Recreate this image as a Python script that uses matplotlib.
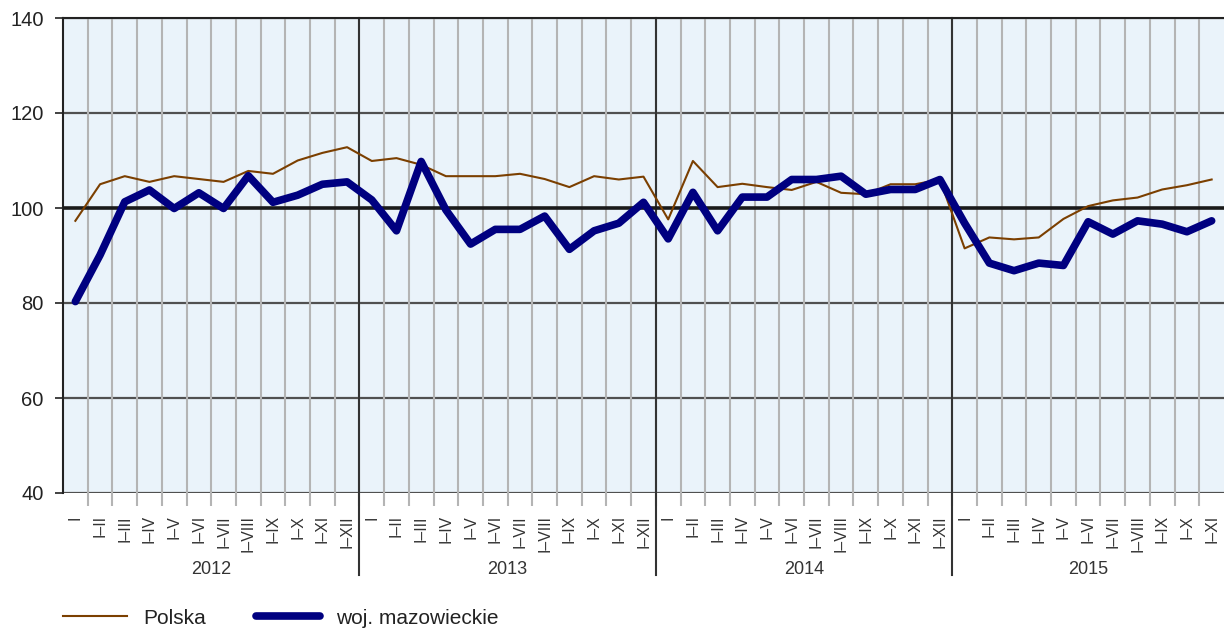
import matplotlib
matplotlib.use("Agg")
import matplotlib.pyplot as plt
import matplotlib.transforms as mtransforms
from matplotlib.lines import Line2D

plt.rcParams['font.family'] = ['Liberation Sans', 'DejaVu Sans']

years = ["2012", "2013", "2014", "2015"]
months_per_year = [12, 12, 12, 11]
period_labels = ["I", "I–II", "I–III", "I–IV", "I–V", "I–VI", "I–VII", "I–VIII",
                 "I–IX", "I–X", "I–XI", "I–XII"]

polska = [97.3, 105.0, 106.7, 105.5, 106.7, 106.1, 105.5, 107.8, 107.2, 110.0, 111.6, 112.8,
          109.9, 110.5, 109.1, 106.7, 106.7, 106.7, 107.2, 106.1, 104.4, 106.7, 106.0, 106.6,
          97.6, 109.9, 104.4, 105.1, 104.4, 103.8, 105.5, 103.2, 102.9, 105.0, 105.0, 106.0,
          91.5, 93.8, 93.4, 93.8, 97.7, 100.4, 101.6, 102.2, 103.9, 104.8, 106.0]
mazowieckie = [80.3, 90.1, 101.3, 103.8, 99.9, 103.2, 99.9, 106.8, 101.2, 102.7, 105.0, 105.5,
               101.7, 95.2, 109.8, 99.6, 92.4, 95.5, 95.5, 98.3, 91.3, 95.2, 96.8, 101.2,
               93.5, 103.3, 95.2, 102.3, 102.3, 106.0, 106.0, 106.7, 102.9, 103.9, 103.9, 106.0,
               96.8, 88.4, 86.8, 88.4, 87.9, 97.1, 94.5, 97.3, 96.6, 95.0, 97.3]

labels = []
for n in months_per_year:
    labels += period_labels[:n]
n_pts = len(labels)
xs = [i + 0.5 for i in range(n_pts)]

fig = plt.figure(figsize=(12.24, 6.28), dpi=100)
ax = fig.add_axes([63/1224, 1 - 493/628, 1 - 63/1224, (493 - 18)/628])
ax.set_facecolor('#EAF3FA')
ax.set_xlim(0, n_pts)
ax.set_ylim(40, 140)

# horizontal grid
for v in [40, 60, 80, 120, 140]:
    ax.axhline(v, color='#505050', lw=1.6, zorder=1)
# vertical minor grid at category boundaries
bounds = list(range(1, n_pts))
ax.set_xticks(bounds, minor=True)
ax.grid(True, which='minor', axis='x', color='#b4b4b4', lw=1.5, zorder=0.5)
ax.tick_params(axis='x', which='minor', length=9.5, width=1.5, color='#b4b4b4')

# major ticks at centers with labels
ax.set_xticks(xs)
ax.set_xticklabels(labels, rotation=90, va='top', ha='center', fontsize=11.3, color='#333333')
ax.tick_params(axis='x', which='major', length=0, pad=16)

ax.set_yticks([40, 60, 80, 100, 120, 140])
ax.tick_params(axis='y', length=6, width=1.3, color='#333333', labelsize=14.5,
               labelcolor='#222222', pad=8)

# year boundaries
trans = mtransforms.blended_transform_factory(ax.transData, ax.transAxes)
cum = 0
starts = []
for n in months_per_year:
    starts.append(cum)
    cum += n
for s in starts[1:]:
    ax.plot([s, s], [-0.173, 1], transform=trans, color='#333333', lw=1.5,
            clip_on=False, zorder=2)
for s, n, y in zip(starts, months_per_year, years):
    ax.text(s + n / 2, -0.16, y, transform=trans, ha='center', va='center',
            fontsize=13, color='#333333')

ax.axhline(100, color='#1a1a1a', lw=2.6, zorder=3)

ax.plot(xs, polska, color='#7B3F00', lw=1.5, zorder=4, solid_joinstyle='round')
ax.plot(xs, mazowieckie, color='#000080', lw=5.5, zorder=5, solid_joinstyle='round',
        solid_capstyle='round')

for side in ['right', 'bottom']:
    ax.spines[side].set_visible(False)
ax.spines['left'].set_color('#222222')
ax.spines['left'].set_linewidth(1.5)
ax.spines['top'].set_color('#222222')
ax.spines['top'].set_linewidth(1.5)

handles = [Line2D([], [], color='#7B3F00', lw=1.5),
           Line2D([], [], color='#000080', lw=5.5, solid_capstyle='round')]
fig.legend(handles, ["Polska", "woj. mazowieckie"], loc='center left',
           bbox_to_anchor=(63/1224, 1 - 618/628), ncol=2, frameon=False,
           fontsize=15, handlelength=3.05, handletextpad=0.8, columnspacing=2.4,
           borderpad=0, borderaxespad=0, labelcolor='#222222')

fig.savefig("out.png", dpi=100)
